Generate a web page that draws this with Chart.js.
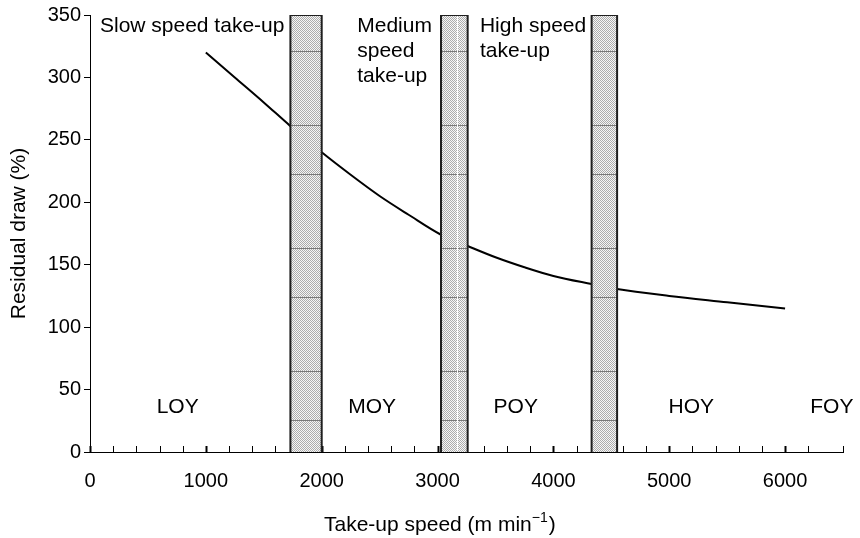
<!DOCTYPE html>
<html>
<head>
<meta charset="utf-8">
<script src="https://cdn.jsdelivr.net/npm/chart.js@4/dist/chart.umd.min.js"></script>
<style>
  html, body { margin: 0; padding: 0; background: #fff; }
  #wrap { width: 860px; height: 538px; }
</style>
</head>
<body>
<div id="wrap"><canvas id="drawChart" width="860" height="538"></canvas></div>
<script>
// Residual draw vs take-up speed
const speeds = [1000, 1250, 1500, 1730, 2000, 2250, 2500, 2750, 3030, 3260, 3500, 3750, 4000, 4330, 4550, 5000, 5500, 6000];
const residualDraw = [320, 300, 280, 261, 240, 222, 205, 190, 174, 165, 156, 148, 141, 134.5, 130.5, 125, 120, 115];

// take-up zones (speed ranges)
const bandStart = [1730, 3030, 4330];
const bandEnd = [2000, 3260, 4550];
const bandTop = 350;
const bandSplit = 3170;

// yarn classes
const yarnLabels = ["LOY", "MOY", "POY", "HOY", "FOY"];
const yarnCentres = [757, 2436, 3675, 5190, 6404];
const yarnLabelY = 31;

// take-up captions
const zoneCaptions = [["Slow speed take-up"], ["Medium", "speed", "take-up"], ["High speed", "take-up"]];
const zoneCaptionX = [86, 2307, 3366];
const zoneCaptionY = 336;

const xMax = 6500, xStep = 200, xLabelStep = 1000;
const yMax = 350, yStep = 50;

const FONT = "'Liberation Sans', Arial, sans-serif";
Chart.defaults.font.family = FONT;
Chart.defaults.color = "#000";

function makeHatch() {
  const c = document.createElement("canvas");
  c.width = 2; c.height = 246;
  const g = c.getContext("2d");
  for (let y = 0; y < c.height; y++) {
    for (let x = 0; x < 2; x++) {
      g.fillStyle = (x + y) % 2 ? "#f6f6f6" : "#acacac";
      g.fillRect(x, y, 1, 1);
    }
  }
  g.fillStyle = "#7a7a7a";
  [2, 51, 125, 174].forEach(y => g.fillRect(0, y, 2, 1));
  return g.createPattern(c, "repeat");
}

const ctx = document.getElementById("drawChart").getContext("2d");
const hatch = makeHatch();

const bandSets = bandStart.map((s, i) => ({
  type: "line",
  data: [{ x: s, y: 0 }, { x: s, y: bandTop }, { x: bandEnd[i], y: bandTop }, { x: bandEnd[i], y: 0 }],
  borderColor: "#1e1e1e",
  borderWidth: 2,
  backgroundColor: hatch,
  fill: "origin",
  pointRadius: 0,
  tension: 0,
  order: 1
}));

const extras = {
  id: "extras",
  beforeDatasetsDraw(chart) {
    // tick marks pointing up into the plot
    const xs = chart.scales.x, c = chart.ctx, base = chart.chartArea.bottom;
    c.save();
    c.strokeStyle = "#000";
    xs.ticks.forEach(t => {
      const px = Math.round(xs.getPixelForValue(t.value)) + 0.5;
      c.lineWidth = t.value % xLabelStep === 0 ? 2 : 1;
      c.beginPath();
      c.moveTo(px, base);
      c.lineTo(px, base - 6);
      c.stroke();
    });
    c.restore();
  },
  afterDatasetsDraw(chart) {
    const xs = chart.scales.x, ys = chart.scales.y, c = chart.ctx;
    c.save();
    // thin light seam in the medium speed zone
    const sx = Math.round(xs.getPixelForValue(bandSplit)) + 0.5;
    c.strokeStyle = "#fff";
    c.lineWidth = 1;
    c.beginPath();
    c.moveTo(sx, ys.getPixelForValue(bandTop) + 1);
    c.lineTo(sx, ys.getPixelForValue(0) - 1);
    c.stroke();

    c.fillStyle = "#000";
    c.font = "21px " + FONT;
    c.textBaseline = "alphabetic";
    c.textAlign = "center";
    yarnLabels.forEach((l, i) => {
      c.fillText(l, xs.getPixelForValue(yarnCentres[i]), ys.getPixelForValue(yarnLabelY));
    });
    c.textAlign = "left";
    zoneCaptions.forEach((lines, i) => {
      const x = xs.getPixelForValue(zoneCaptionX[i]);
      const y0 = ys.getPixelForValue(zoneCaptionY);
      lines.forEach((ln, j) => c.fillText(ln, x, y0 + j * 25));
    });

    // x axis title with superscript
    const main = "Take-up speed (m min";
    const sup = "\u22121";
    c.font = "21px " + FONT;
    const wMain = c.measureText(main).width;
    c.font = "14px " + FONT;
    const wSup = c.measureText(sup).width;
    c.font = "21px " + FONT;
    const wEnd = c.measureText(")").width;
    const total = wMain + wSup + 1 + wEnd;
    let tx = xs.getPixelForValue(3020) - total / 2;
    const ty = 531;
    c.fillText(main, tx, ty);
    tx += wMain;
    c.font = "14px " + FONT;
    c.fillText(sup, tx, ty - 9);
    tx += wSup + 1;
    c.font = "21px " + FONT;
    c.fillText(")", tx, ty);
    c.restore();
  }
};

new Chart(ctx, {
  type: "line",
  data: {
    datasets: [
      {
        data: speeds.map((s, i) => ({ x: s, y: residualDraw[i] })),
        borderColor: "#000",
        borderWidth: 2,
        pointRadius: 0,
        fill: false,
        cubicInterpolationMode: "monotone",
        order: 2
      },
      ...bandSets
    ]
  },
  options: {
    responsive: false,
    animation: false,
    devicePixelRatio: 1,
    layout: { padding: { top: 15, right: 15, left: 0, bottom: 0 } },
    plugins: { legend: { display: false }, tooltip: { enabled: false } },
    scales: {
      x: {
        type: "linear",
        min: 0,
        max: xMax,
        grid: { display: false, drawTicks: false },
        border: { display: true, color: "#000", width: 1 },
        ticks: {
          stepSize: xStep,
          autoSkip: false,
          maxRotation: 0,
          padding: 17,
          font: { size: 20 },
          color: "#000",
          callback: v => (v % xLabelStep === 0 ? String(v) : "")
        },
        afterFit(scale) { scale.height = 86; }
      },
      y: {
        min: 0,
        max: yMax,
        grid: { drawOnChartArea: false, drawTicks: true, tickLength: 6, color: "#000" },
        border: { display: true, color: "#000", width: 1 },
        ticks: { stepSize: yStep, padding: 3, font: { size: 20 }, color: "#000" },
        title: {
          display: true,
          text: "Residual draw (%)",
          font: { size: 21 },
          color: "#000",
          padding: { top: 7, bottom: 0 }
        },
        afterFit(scale) { scale.width = 90; }
      }
    }
  },
  plugins: [extras]
});
</script>
</body>
</html>
